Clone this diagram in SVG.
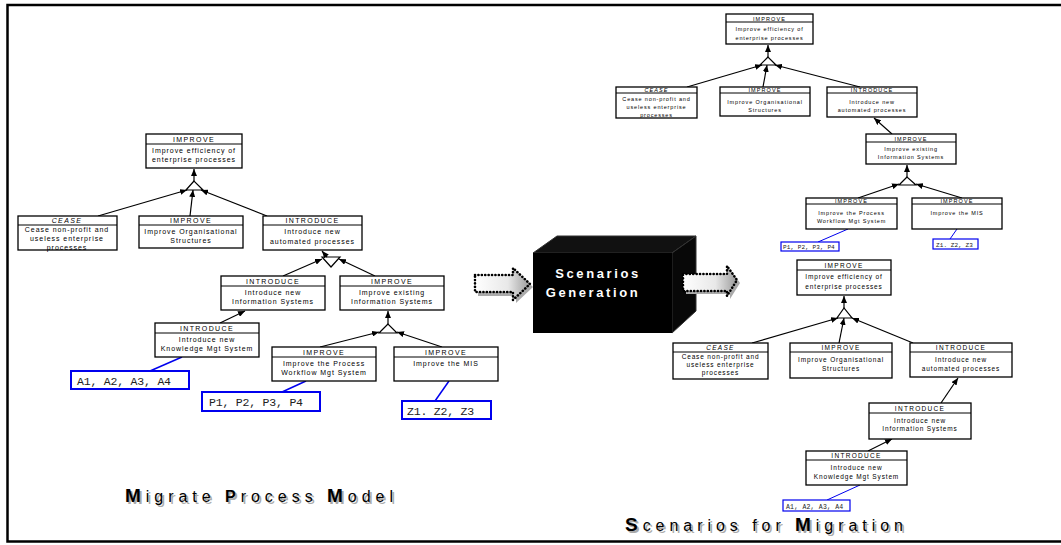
<svg xmlns="http://www.w3.org/2000/svg" width="1061" height="545" viewBox="0 0 1061 545">
<style>
.box{fill:#fff;stroke:#000;stroke-width:1.3}
.hl{stroke:#000;stroke-width:1}
text{font-family:"Liberation Sans","DejaVu Sans",sans-serif;fill:#000;text-anchor:middle}
.hL{font-size:7px;letter-spacing:1.4px}
.bL{font-size:7px;letter-spacing:0.95px}
.hR{font-size:5.5px;letter-spacing:1.1px}
.bR{font-size:5.5px;letter-spacing:0.85px}
.hB{font-size:6.5px;letter-spacing:1.3px}
.bB{font-size:6.5px;letter-spacing:0.85px}
.it{font-style:italic}
.c{stroke:#000;stroke-width:1.2;fill:none}
.ca{stroke:#000;stroke-width:1.2;fill:none;marker-end:url(#ah)}
.tri{fill:#fff;stroke:#000;stroke-width:1.2}
.bl{stroke:#0000ee;stroke-width:1.5;fill:none}
.bbox{fill:#fff;stroke:#0000ee;stroke-width:2}
.bboxs{fill:#fff;stroke:#0000ee;stroke-width:1.2}
.mono{font-family:"Liberation Mono","DejaVu Sans Mono",monospace;fill:#222;text-anchor:start}
.ttl{font-family:"Liberation Sans","DejaVu Sans",sans-serif;font-size:16px;text-anchor:start}
.arr{fill:url(#ag);stroke:#000;stroke-width:2.6;stroke-dasharray:0.1 3.3;stroke-linecap:round}
</style>
<defs>
<marker id="ah" markerWidth="7" markerHeight="6" refX="7" refY="3" orient="auto" markerUnits="userSpaceOnUse">
<path d="M0,0 L7,3 L0,6 z" fill="#000"/>
</marker>
<linearGradient id="ag" x1="0" y1="0" x2="1" y2="0">
<stop offset="0" stop-color="#ffffff"/>
<stop offset="0.6" stop-color="#e8e8e8"/>
<stop offset="1" stop-color="#9a9a9a"/>
</linearGradient>
</defs>
<rect width="1061" height="545" fill="#fff"/>
<path d="M1061,5 L7.5,5 L7.5,541.5 L1061,541.5" fill="none" stroke="#000" stroke-width="2.5"/>

<g id="connectors">
<line class="ca" x1="194" y1="181" x2="194" y2="169"/>
<polygon class="tri" points="194,181 186,190 203,190"/>
<line class="ca" x1="98" y1="216" x2="187" y2="190"/>
<line class="ca" x1="190" y1="216" x2="193" y2="190"/>
<line class="ca" x1="267" y1="216" x2="201" y2="190"/>
<polygon class="tri" points="322,257 340,257 331,267"/>
<line class="ca" x1="327" y1="257" x2="322" y2="251"/>
<line class="ca" x1="283" y1="276" x2="322" y2="259"/>
<line class="ca" x1="375" y1="276" x2="339" y2="259"/>
<line class="ca" x1="220" y1="323" x2="245" y2="311"/>
<polygon class="tri" points="388,324 379,333 397,333"/>
<line class="ca" x1="388" y1="324" x2="388" y2="311"/>
<line class="ca" x1="320" y1="347" x2="379" y2="332"/>
<line class="ca" x1="442" y1="347" x2="397" y2="332"/>
<line class="bl" x1="150" y1="371" x2="182" y2="357"/>
<line class="bl" x1="282" y1="392" x2="306" y2="381"/>
<line class="bl" x1="435" y1="401" x2="449" y2="381"/>
<polygon class="tri" points="768,57 760,65 776,65"/>
<line class="ca" x1="768" y1="57" x2="768" y2="45"/>
<line class="ca" x1="687" y1="87" x2="762" y2="65"/>
<line class="ca" x1="763" y1="87" x2="767" y2="65"/>
<line class="ca" x1="860" y1="87" x2="775" y2="65"/>
<line class="ca" x1="892" y1="134" x2="874" y2="118"/>
<polygon class="tri" points="907,177 899,185 916,185"/>
<line class="ca" x1="907" y1="177" x2="907" y2="165"/>
<line class="ca" x1="858" y1="198" x2="899" y2="184"/>
<line class="ca" x1="962" y1="198" x2="916" y2="184"/>
<line class="bl" x1="818" y1="242" x2="848" y2="229" style="stroke-width:1"/>
<line class="bl" x1="950" y1="239" x2="957" y2="229" style="stroke-width:1"/>
<polygon class="tri" points="844,308 837,318 852,318"/>
<line class="ca" x1="844" y1="308" x2="844" y2="296"/>
<line class="ca" x1="752" y1="343" x2="838" y2="318"/>
<line class="ca" x1="839" y1="343" x2="844" y2="318"/>
<line class="ca" x1="913" y1="343" x2="852" y2="318"/>
<line class="ca" x1="941" y1="403" x2="958" y2="378"/>
<line class="ca" x1="868" y1="451" x2="892" y2="439"/>
<line class="bl" x1="827" y1="500" x2="860" y2="485" style="stroke-width:1"/>
</g>

<g id="L1"><rect class="box" x="146" y="134" width="96" height="34"/><line class="hl" x1="146" y1="144" x2="242" y2="144"/>
<text class="hL" x="194" y="142">IMPROVE</text><text class="bL" x="194" y="153">Improve efficiency of</text><text class="bL" x="194" y="162">enterprise processes</text></g>
<g id="L2"><rect class="box" x="18" y="216" width="99" height="34"/><line class="hl" x1="18" y1="225" x2="117" y2="225"/>
<text class="hL it" x="67" y="223">CEASE</text><text class="bL" x="67" y="231.5">Cease non-profit and</text><text class="bL" x="67" y="240.5">useless enterprise</text><text class="bL" x="67" y="249.5">processes</text></g>
<g id="L3"><rect class="box" x="139" y="216" width="104" height="32"/><line class="hl" x1="139" y1="225" x2="243" y2="225"/>
<text class="hL" x="191" y="223">IMPROVE</text><text class="bL" x="191" y="234">Improve Organisational</text><text class="bL" x="191" y="243">Structures</text></g>
<g id="L4"><rect class="box" x="263" y="216" width="99" height="34"/><line class="hl" x1="263" y1="225" x2="362" y2="225"/>
<text class="hL" x="312.5" y="223">INTRODUCE</text><text class="bL" x="312.5" y="234">Introduce new</text><text class="bL" x="312.5" y="243.5">automated processes</text></g>
<g id="L5"><rect class="box" x="221" y="276" width="104" height="34"/><line class="hl" x1="221" y1="286" x2="325" y2="286"/>
<text class="hL" x="273" y="284">INTRODUCE</text><text class="bL" x="273" y="294.5">Introduce new</text><text class="bL" x="273" y="303.5">Information Systems</text></g>
<g id="L6"><rect class="box" x="340" y="276" width="104" height="34"/><line class="hl" x1="340" y1="286" x2="444" y2="286"/>
<text class="hL" x="392" y="284">IMPROVE</text><text class="bL" x="392" y="294.5">Improve existing</text><text class="bL" x="392" y="303.5">Information Systems</text></g>
<g id="L7"><rect class="box" x="155" y="323" width="104" height="34"/><line class="hl" x1="155" y1="333" x2="259" y2="333"/>
<text class="hL" x="207" y="331">INTRODUCE</text><text class="bL" x="207" y="341.5">Introduce new</text><text class="bL" x="207" y="350.5">Knowledge Mgt System</text></g>
<g id="L8"><rect class="box" x="272" y="347" width="104" height="34"/><line class="hl" x1="272" y1="357" x2="376" y2="357"/>
<text class="hL" x="324" y="355">IMPROVE</text><text class="bL" x="324" y="365.5">Improve the Process</text><text class="bL" x="324" y="374.5">Workflow Mgt System</text></g>
<g id="L9"><rect class="box" x="394" y="347" width="104" height="34"/><line class="hl" x1="394" y1="357" x2="498" y2="357"/>
<text class="hL" x="446" y="355">IMPROVE</text><text class="bL" x="446" y="365.5">Improve the MIS</text></g>
<g id="LA"><rect class="bbox" x="71" y="371" width="118" height="18"/><text class="mono" x="77" y="385" font-size="11.5" letter-spacing="-0.2">A1, A2, A3, A4</text></g>
<g id="LP"><rect class="bbox" x="202" y="392" width="118" height="19"/><text class="mono" x="209" y="406" font-size="11.5" letter-spacing="-0.2">P1, P2, P3, P4</text></g>
<g id="LZ"><rect class="bbox" x="402" y="401" width="89" height="18"/><text class="mono" x="407" y="415" font-size="11.5" letter-spacing="-0.2">Z1. Z2, Z3</text></g>

<g id="R1"><rect class="box" x="726" y="14" width="87" height="30"/><line class="hl" x1="726" y1="22" x2="813" y2="22"/>
<text class="hR" x="769.5" y="20.5">IMPROVE</text><text class="bR" x="769.5" y="31">Improve efficiency of</text><text class="bR" x="769.5" y="39.5">enterprise processes</text></g>
<g id="R2"><rect class="box" x="616" y="87" width="81" height="31"/><line class="hl" x1="616" y1="93" x2="697" y2="93"/>
<text class="hR it" x="656.5" y="92">CEASE</text><text class="bR" x="656.5" y="101">Cease non-profit and</text><text class="bR" x="656.5" y="109">useless enterprise</text><text class="bR" x="656.5" y="117">processes</text></g>
<g id="R3"><rect class="box" x="720" y="87" width="90" height="29"/><line class="hl" x1="720" y1="93" x2="810" y2="93"/>
<text class="hR" x="765" y="92">IMPROVE</text><text class="bR" x="765" y="104">Improve Organisational</text><text class="bR" x="765" y="111.5">Structures</text></g>
<g id="R4"><rect class="box" x="827" y="87" width="90" height="30"/><line class="hl" x1="827" y1="93" x2="917" y2="93"/>
<text class="hR" x="872" y="92">INTRODUCE</text><text class="bR" x="872" y="104">Introduce new</text><text class="bR" x="872" y="111.5">automated processes</text></g>
<g id="R5"><rect class="box" x="866" y="134" width="90" height="30"/><line class="hl" x1="866" y1="142" x2="956" y2="142"/>
<text class="hR" x="911" y="140.5">IMPROVE</text><text class="bR" x="911" y="151">Improve existing</text><text class="bR" x="911" y="159">Information Systems</text></g>
<g id="R6"><rect class="box" x="806" y="198" width="91" height="31"/><line class="hl" x1="806" y1="204" x2="897" y2="204"/>
<text class="hR" x="851.5" y="203">IMPROVE</text><text class="bR" x="851.5" y="215">Improve the Process</text><text class="bR" x="851.5" y="222.5">Workflow Mgt System</text></g>
<g id="R7"><rect class="box" x="912" y="198" width="90" height="31"/><line class="hl" x1="912" y1="204" x2="1002" y2="204"/>
<text class="hR" x="957" y="203">IMPROVE</text><text class="bR" x="957" y="215">Improve the MIS</text></g>
<g id="RP"><rect class="bboxs" x="781" y="242" width="58" height="9"/><text class="mono" x="783" y="249" font-size="6" letter-spacing="0.1">P1, P2, P3, P4</text></g>
<g id="RZ"><rect class="bboxs" x="933" y="239" width="45" height="10"/><text class="mono" x="936" y="246.5" font-size="6" letter-spacing="0.1">Z1. Z2, Z3</text></g>

<g id="B1"><rect class="box" x="797" y="260" width="94" height="35"/><line class="hl" x1="797" y1="270" x2="891" y2="270"/>
<text class="hB" x="844" y="267.5">IMPROVE</text><text class="bB" x="844" y="279">Improve efficiency of</text><text class="bB" x="844" y="289">enterprise processes</text></g>
<g id="B2"><rect class="box" x="673" y="343" width="95" height="36"/><line class="hl" x1="673" y1="352" x2="768" y2="352"/>
<text class="hB it" x="720.5" y="350">CEASE</text><text class="bB" x="720.5" y="358.5">Cease non-profit and</text><text class="bB" x="720.5" y="366.5">useless enterprise</text><text class="bB" x="720.5" y="374.5">processes</text></g>
<g id="B3"><rect class="box" x="790" y="343" width="102" height="35"/><line class="hl" x1="790" y1="352" x2="892" y2="352"/>
<text class="hB" x="841" y="350">IMPROVE</text><text class="bB" x="841" y="361.5">Improve Organisational</text><text class="bB" x="841" y="370.5">Structures</text></g>
<g id="B4"><rect class="box" x="910" y="343" width="102" height="34"/><line class="hl" x1="910" y1="352" x2="1012" y2="352"/>
<text class="hB" x="961" y="350">INTRODUCE</text><text class="bB" x="961" y="361.5">Introduce new</text><text class="bB" x="961" y="370.5">automated processes</text></g>
<g id="B5"><rect class="box" x="869" y="403" width="102" height="36"/><line class="hl" x1="869" y1="413" x2="971" y2="413"/>
<text class="hB" x="920" y="410.5">INTRODUCE</text><text class="bB" x="920" y="422.5">Introduce new</text><text class="bB" x="920" y="430.5">Information Systems</text></g>
<g id="B6"><rect class="box" x="806" y="451" width="101" height="34"/><line class="hl" x1="806" y1="460" x2="907" y2="460"/>
<text class="hB" x="856.5" y="458">INTRODUCE</text><text class="bB" x="856.5" y="469.5">Introduce new</text><text class="bB" x="856.5" y="479">Knowledge Mgt System</text></g>
<g id="BA"><rect class="bboxs" x="783" y="500" width="67" height="11"/><text class="mono" x="786" y="508.5" font-size="6.5" letter-spacing="0.2">A1, A2, A3, A4</text></g>

<g id="cube">
<polygon points="533,253 557,236 696,236 672,253" fill="#111" stroke="#333" stroke-width="1"/>
<polygon points="672,253 696,236 696,311 672,333" fill="#080808" stroke="#333" stroke-width="1"/>
<rect x="533" y="253" width="139" height="80" fill="#000"/>
<text x="598" y="278" style="font-size:13px;font-weight:bold;fill:#fff;letter-spacing:2.6px">Scenarios</text>
<text x="593" y="297" style="font-size:13px;font-weight:bold;fill:#fff;letter-spacing:2.6px">Generation</text>
</g>
<g id="arrow-in">
<path d="M478,278 L516,278 L516,271 L533,287 L516,303 L516,296 L478,296 z" fill="#aaa"/>
<path d="M475,275 L513,275 L513,268 L530,284 L513,300 L513,292 L475,292 z" class="arr"/>
</g>
<g id="arrow-out">
<path d="M686,277 L730,277 L730,269 L740,283 L730,299 L730,294 L686,294 z" fill="#aaa"/>
<path d="M683,274 L727,274 L727,266 L737,280 L727,296 L727,291 L683,291 z" class="arr"/>
</g>

<g id="title-left">
<text class="ttl" x="127" y="504" style="fill:#aaa" textLength="268" lengthAdjust="spacing"><tspan font-weight="bold" font-size="19">M</tspan>igrate <tspan font-weight="bold">P</tspan>rocess <tspan font-weight="bold" font-size="19">M</tspan>odel</text>
<text class="ttl" x="125" y="502" textLength="268" lengthAdjust="spacing"><tspan font-weight="bold" font-size="19">M</tspan>igrate <tspan font-weight="bold">P</tspan>rocess <tspan font-weight="bold" font-size="19">M</tspan>odel</text>
</g>
<g id="title-right">
<text class="ttl" x="627" y="533" style="fill:#aaa" textLength="278" lengthAdjust="spacing"><tspan font-weight="bold" font-size="19">S</tspan>cenarios for <tspan font-weight="bold" font-size="19">M</tspan>igration</text>
<text class="ttl" x="625" y="531" textLength="278" lengthAdjust="spacing"><tspan font-weight="bold" font-size="19">S</tspan>cenarios for <tspan font-weight="bold" font-size="19">M</tspan>igration</text>
</g>
</svg>
